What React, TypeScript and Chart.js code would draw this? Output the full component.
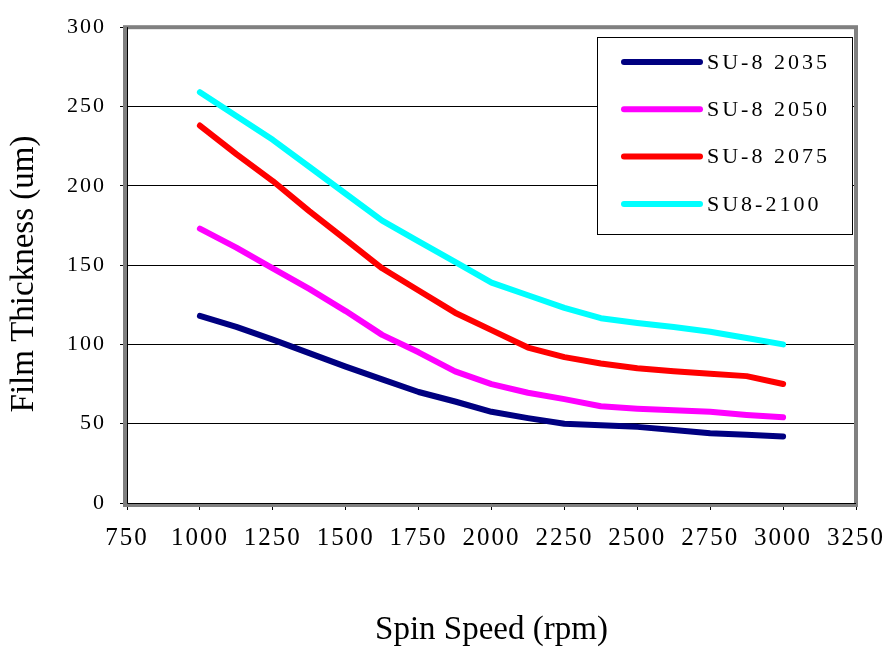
import React, { useEffect, useRef } from "react";
import { Chart, registerables } from "chart.js";

Chart.register(...registerables);

const spinSpeeds = [1000, 1125, 1250, 1375, 1500, 1625, 1750, 1875, 2000, 2125, 2250, 2375, 2500, 2625, 2750, 2875, 3000];
const su2035 = [118, 111, 103, 94.5, 86, 78, 70, 64, 57.5, 53.5, 50, 49, 48, 46, 44, 43, 42];
const su2050 = [173, 161, 148, 135, 121, 106, 95, 83, 75, 69.5, 65.5, 61, 59.5, 58.5, 57.5, 55.5, 54];
const su2075 = [238, 220, 203, 184, 166, 148, 134, 120, 109, 98, 92, 88, 85, 83, 81.5, 80, 75];
const su2100 = [259, 244, 229, 212, 195, 178, 165, 152, 139, 131, 123, 116.5, 113.5, 111, 108, 104, 100];

const seriesNames = ["SU-8 2035", "SU-8 2050", "SU-8 2075", "SU8-2100"];
const seriesColors = ["#000080", "#FF00FF", "#FF0000", "#00FFFF"];
const seriesValues = [su2035, su2050, su2075, su2100];

const xTitle = "Spin Speed (rpm)";
const yTitle = "Film Thickness (um)";

const SERIF = "'Liberation Serif', 'DejaVu Serif', serif";

const spacingPlugin = {
  id: "spacing",
  beforeDraw(chart: any) {
    (chart.ctx as any).letterSpacing = "2px";
  },
};

const framePlugin = {
  id: "frame",
  beforeDatasetsDraw(chart: any) {
    const { ctx, chartArea: a } = chart;
    ctx.save();
    ctx.strokeStyle = "#808080";
    ctx.lineWidth = 4;
    ctx.strokeRect(a.left - 2, a.top, a.right - a.left + 2, a.bottom - a.top + 2);
    ctx.strokeStyle = "#000000";
    ctx.lineWidth = 1;
    ctx.beginPath();
    ctx.moveTo(a.left + 0.5, a.top);
    ctx.lineTo(a.left + 0.5, a.bottom + 0.5);
    ctx.lineTo(a.right, a.bottom + 0.5);
    ctx.stroke();
    ctx.restore();
  },
};

const legendPlugin = {
  id: "boxLegend",
  afterDraw(chart: any) {
    const { ctx, chartArea: a } = chart;
    ctx.save();
    // axis titles
    (ctx as any).letterSpacing = "0px";
    ctx.fillStyle = "#000000";
    ctx.font = `33px ${SERIF}`;
    ctx.textAlign = "center";
    ctx.textBaseline = "middle";
    ctx.fillText(xTitle, (a.left + a.right) / 2, 630);
    ctx.save();
    ctx.translate(24, 274);
    ctx.rotate(-Math.PI / 2);
    ctx.fillText(yTitle, 0, 0);
    ctx.restore();

    // legend box
    ctx.fillStyle = "#ffffff";
    ctx.fillRect(597.5, 37.5, 255, 197);
    ctx.strokeStyle = "#000000";
    ctx.lineWidth = 1;
    ctx.strokeRect(597.5, 37.5, 255, 197);
    chart.data.datasets.forEach((ds: any, i: number) => {
      const y = 62 + i * 47.3;
      ctx.strokeStyle = ds.borderColor;
      ctx.lineWidth = 6;
      ctx.lineCap = "round";
      ctx.beginPath();
      ctx.moveTo(624, y);
      ctx.lineTo(700, y);
      ctx.stroke();
      ctx.fillStyle = "#000000";
      ctx.font = `22px ${SERIF}`;
      (ctx as any).letterSpacing = "3px";
      ctx.textBaseline = "middle";
      ctx.textAlign = "left";
      ctx.fillText(ds.label, 707, y + 1);
    });
    (ctx as any).letterSpacing = "0px";
    ctx.restore();
    (ctx as any).letterSpacing = "0px";
  },
};

export default function App() {
  const ref = useRef<HTMLCanvasElement | null>(null);
  useEffect(() => {
    if (!ref.current) return;
    const chart = new Chart(ref.current, {
      type: "line",
      data: {
        datasets: seriesNames.map((name, i) => ({
          label: name,
          data: spinSpeeds.map((s, j) => ({ x: s, y: seriesValues[i][j] })),
          borderColor: seriesColors[i],
          backgroundColor: seriesColors[i],
          borderWidth: 6,
          borderCapStyle: "round",
          borderJoinStyle: "round",
          pointRadius: 0,
          tension: 0,
          fill: false,
        })),
      },
      options: {
        animation: false,
        responsive: false,
        layout: { padding: { top: 24, right: 32, left: 0, bottom: 0 } },
        plugins: { legend: { display: false }, tooltip: { enabled: false } },
        scales: {
          x: {
            type: "linear",
            min: 750,
            max: 3250,
            afterFit: (s: any) => { s.height = 155; },
            ticks: { stepSize: 250, color: "#000", font: { family: SERIF, size: 25 }, padding: 13, maxRotation: 0, autoSkip: false, callback: (v: any) => String(v) },
            grid: { display: true, drawOnChartArea: false, drawTicks: true, tickLength: 7, color: "#000" },
            border: { display: true, color: "#000", width: 1 },
            title: { display: false },
          },
          y: {
            min: 0,
            max: 300,
            afterFit: (s: any) => { s.width = 127; },
            ticks: { stepSize: 50, color: "#000", font: { family: SERIF, size: 22 }, padding: 14, callback: (v: any) => String(v) },
            grid: { color: "#000", lineWidth: 1, drawTicks: true, tickLength: 7 },
            border: { display: true, color: "#000", width: 1 },
            title: { display: false },
          },
        },
      },
      plugins: [spacingPlugin, framePlugin, legendPlugin],
    } as any);
    return () => chart.destroy();
  }, []);
  return (
    <div style={{ position: "absolute", left: 0, top: 0, width: 894, height: 658, background: "#fff" }}>
      <canvas ref={ref} width={894} height={658} style={{ display: "block" }} />
    </div>
  );
}
